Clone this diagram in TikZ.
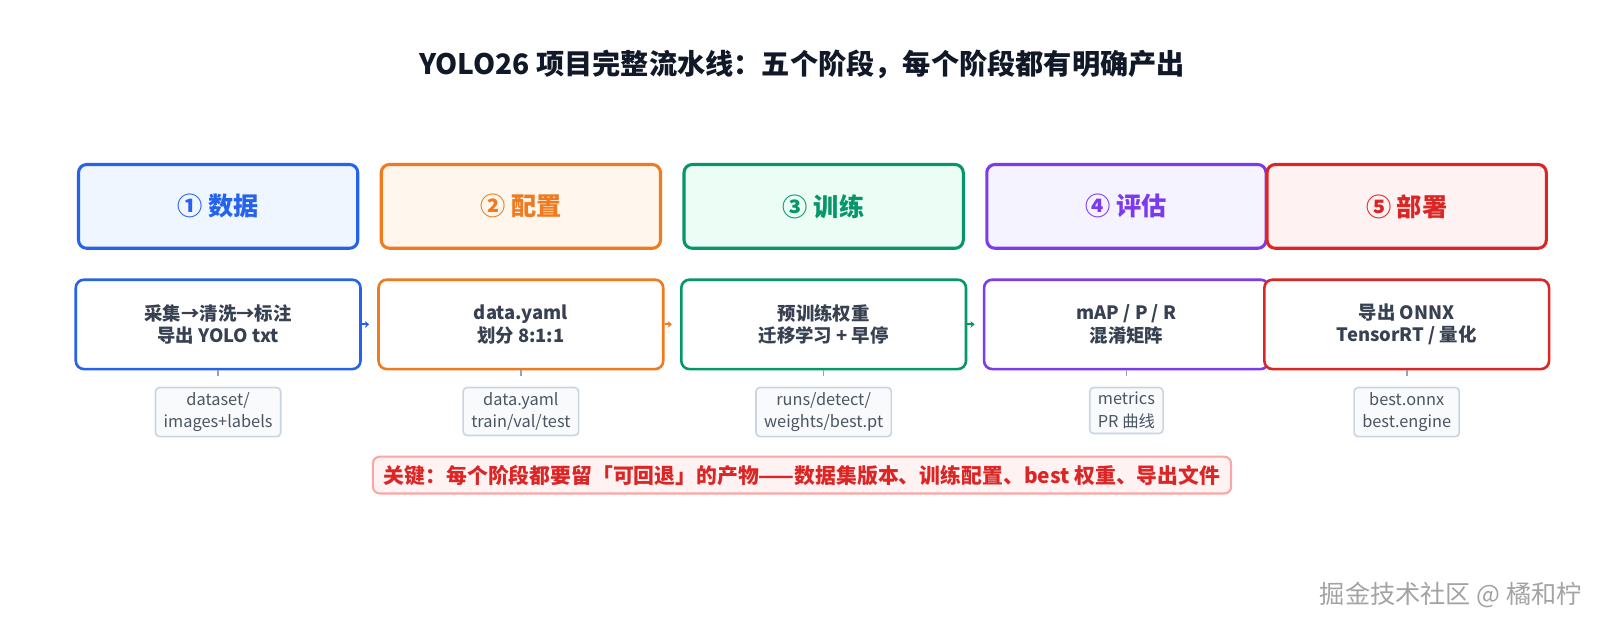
\documentclass[tikz,border=0pt]{standalone}
\usepackage{fontspec}
\setmainfont{Noto Sans CJK SC}
\usepackage{tikz}
\usetikzlibrary{positioning,arrows.meta}
\definecolor{blueC}{HTML}{2563EB}
\definecolor{blueF}{HTML}{EFF6FF}
\definecolor{orangeC}{HTML}{F07A1E}
\definecolor{orangeF}{HTML}{FFF7ED}
\definecolor{greenC}{HTML}{059669}
\definecolor{greenF}{HTML}{ECFDF5}
\definecolor{purpleC}{HTML}{7C3AED}
\definecolor{purpleF}{HTML}{F5F3FF}
\definecolor{redC}{HTML}{DC2626}
\definecolor{redF}{HTML}{FEF2F2}
\definecolor{textC}{HTML}{374151}
\definecolor{titleC}{HTML}{111827}
\definecolor{artC}{HTML}{CBD5E1}
\definecolor{artF}{HTML}{F8FAFC}
\definecolor{artT}{HTML}{4B5563}
\definecolor{tickC}{HTML}{94A3B8}
\definecolor{noteC}{HTML}{FCA5A5}
\definecolor{markC}{HTML}{A3A3A3}
\tikzset{
    stage/.style={
        rectangle, rounded corners=6pt,
        draw, line width=2.25pt, minimum width=205pt,
        minimum height=61.5pt,
        align=center, font=\bfseries\fontsize{18.5}{22}\selectfont
    },
    detail/.style={
        rectangle, rounded corners=6pt,
        draw, fill=white, line width=1.9pt, minimum width=209pt,
        minimum height=65.6pt, text=textC,
        align=center, font=\bfseries\fontsize{13.5}{16.5}\selectfont
    },
    artifact/.style={
        rectangle, rounded corners=3pt,
        draw=artC, fill=artF, line width=1.2pt,
        inner xsep=6pt, inner ysep=3.5pt, text=artT,
        align=center, font=\fontsize{12}{16.5}\selectfont
    },
    flow/.style={line width=1.6pt, shorten >=6pt, -{Stealth[length=3pt,width=5pt]}},
    tick/.style={line width=1.2pt, draw=tickC, shorten >=8pt}
}

\begin{document}
\begin{tikzpicture}[x=0.75pt, y=-0.75pt]

        \useasboundingbox (0,0) rectangle (1568,617.6);

        % Title
        \node[text=titleC, font=\bfseries\fontsize{20.7}{24}\selectfont] (title) at (785,63)
            {YOLO26 项目完整流水线：五个阶段，每个阶段都有明确产出};

        % Stages
        \node[stage, draw=blueC, fill=blueF, text=blueC] (s1) at (213.5,202) {① 数据};
        \node[stage, draw=orangeC, fill=orangeF, text=orangeC, right=15pt of s1] (s2) {② 配置};
        \node[stage, draw=greenC, fill=greenF, text=greenC, right=15pt of s2] (s3) {③ 训练};
        \node[stage, draw=purpleC, fill=purpleF, text=purpleC, right=15pt of s3] (s4) {④ 评估};
        \node[stage, draw=redC, fill=redF, text=redC, right=-1.5pt of s4] (s5) {⑤ 部署};

        % Details
        \node[detail, draw=blueC, below=21pt of s1] (d1) {采集→清洗→标注\\导出 YOLO txt};
        \node[detail, draw=orangeC, below=21pt of s2] (d2) {data.yaml\\划分 8:1:1};
        \node[detail, draw=greenC, below=21pt of s3] (d3) {预训练权重\\迁移学习 + 早停};
        \node[detail, draw=purpleC, below=21pt of s4] (d4) {mAP / P / R\\混淆矩阵};
        \node[detail, draw=redC, below=21pt of s5] (d5) {导出 ONNX\\TensorRT / 量化};

        % Artifacts
        \node[artifact, below=12pt of d1] (a1) {dataset/\\images+labels};
        \node[artifact, below=12pt of d2] (a2) {data.yaml\\train/val/test};
        \node[artifact, below=12pt of d3] (a3) {runs/detect/\\weights/best.pt};
        \node[artifact, below=12pt of d4] (a4) {metrics\\PR 曲线};
        \node[artifact, below=12pt of d5] (a5) {best.onnx\\best.engine};

        % Arrows
        \draw[flow, blueC] (d1.east) -- (d2.west);
        \draw[flow, orangeC] (d2.east) -- (d3.west);
        \draw[flow, greenC] (d3.east) -- (d4.west);

        \draw[tick] (d1.south) -- (a1.north);
        \draw[tick] (d2.south) -- (a2.north);
        \draw[tick] (d3.south) -- (a3.north);
        \draw[tick] (d4.south) -- (a4.north);
        \draw[tick] (d5.south) -- (a5.north);

        % Key note
        \node[rectangle, rounded corners=5pt, draw=noteC, fill=redF, line width=1.5pt,
            text=redC, font=\bfseries\fontsize{15.3}{18}\selectfont,
            inner xsep=8pt, inner ysep=6pt] (key) at (785,465)
            {关键：每个阶段都要留「可回退」的产物——数据集版本、训练配置、best 权重、导出文件};

        % Watermark
        \node[text=markC, font=\fontsize{18.5}{22}\selectfont] (mark) at (1420,582)
            {掘金技术社区 @ 橘和柠};

    \end{tikzpicture}
\end{document}
